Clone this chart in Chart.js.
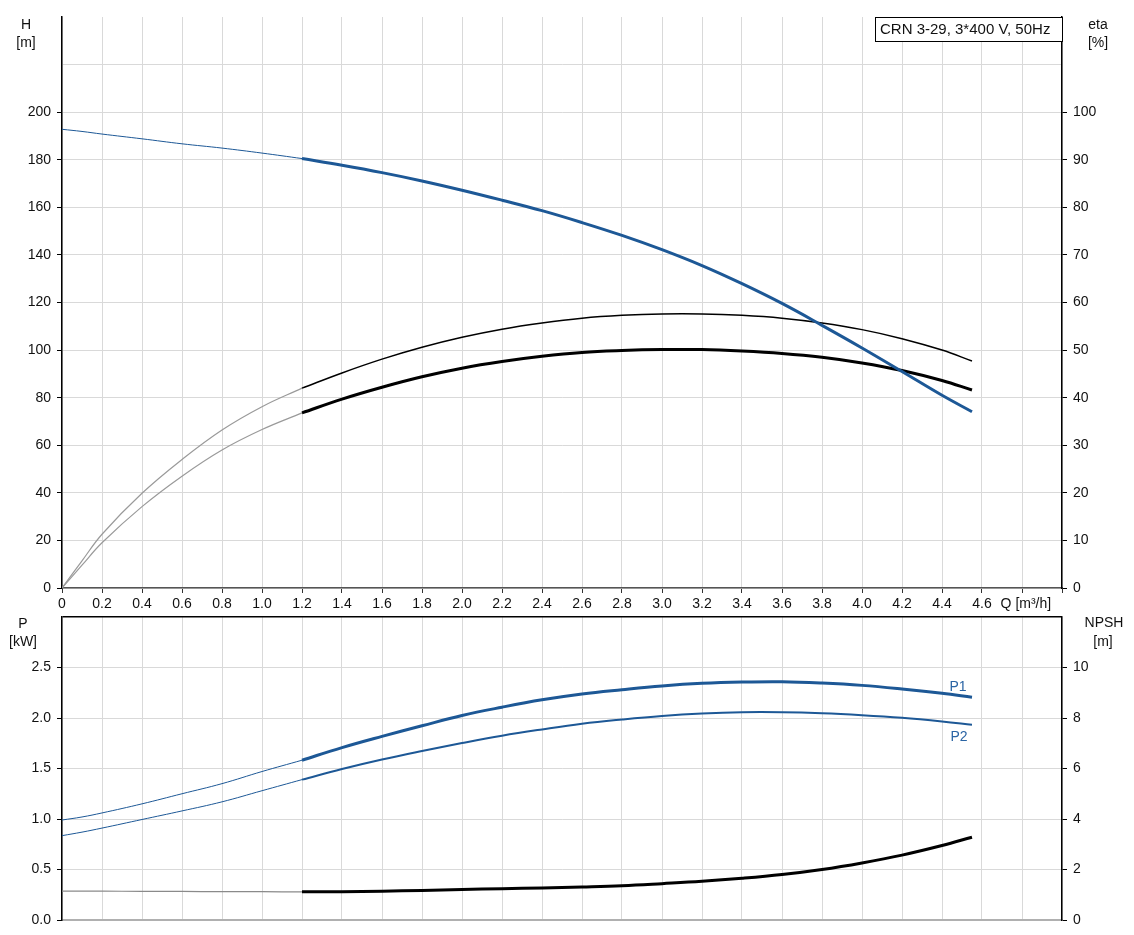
<!DOCTYPE html>
<html>
<head>
<meta charset="utf-8">
<script src="https://cdn.jsdelivr.net/npm/chart.js@4.4.0/dist/chart.umd.min.js"></script>
<style>
  html, body { margin: 0; padding: 0; background: #fff; }
  #top { position: absolute; left: 0; top: 0; width: 1134px; height: 612px; }
  #bottom { position: absolute; left: 0; top: 600px; width: 1134px; height: 335px; }
</style>
</head>
<body>
<div id="top"><canvas id="curveQH"></canvas></div>
<div id="bottom"><canvas id="curveP"></canvas></div>
<script>
// Q points (m³/h): thin part below the duty range, thick part inside it
const qLow = [0, 0.1, 0.2, 0.4, 0.6, 0.8, 1.0, 1.2];
const qHigh = [1.2, 1.4, 1.6, 1.8, 2.0, 2.2, 2.4, 2.6, 2.8, 3.0, 3.2, 3.4, 3.6, 3.8, 4.0, 4.2, 4.4, 4.55];

// head H [m]
const headLow = [192.8, 191.9, 190.8, 188.8, 186.7, 184.9, 182.8, 180.5];
const headHigh = [180.5, 177.7, 174.6, 171.1, 167.2, 163.0, 158.6, 153.6, 148.2, 142.2, 135.5, 127.9, 119.6, 110.4, 100.9, 91.0, 81.0, 74.1];

// efficiencies eta [%]
const etaPumpLow = [0, 5.7, 11.3, 19.9, 27.0, 33.2, 38.1, 42.0];
const etaPumpHigh = [42.0, 45.2, 48.1, 50.6, 52.7, 54.4, 55.7, 56.7, 57.3, 57.6, 57.6, 57.3, 56.7, 55.7, 54.3, 52.4, 50.0, 47.7];
const etaTotalLow = [0, 4.8, 9.5, 17.1, 23.5, 29.0, 33.3, 36.8];
const etaTotalHigh = [36.8, 39.7, 42.2, 44.4, 46.2, 47.6, 48.7, 49.5, 49.9, 50.1, 50.1, 49.8, 49.3, 48.5, 47.3, 45.7, 43.6, 41.6];

// power P1 / P2 [kW]
const p1Low = [0.99, 1.02, 1.06, 1.15, 1.25, 1.35, 1.47, 1.582];
const p1High = [1.582, 1.707, 1.818, 1.923, 2.025, 2.107, 2.18, 2.238, 2.28, 2.317, 2.343, 2.356, 2.359, 2.346, 2.323, 2.287, 2.244, 2.205];
const p2Low = [0.835, 0.87, 0.91, 0.995, 1.08, 1.17, 1.28, 1.39];
const p2High = [1.39, 1.495, 1.589, 1.673, 1.752, 1.825, 1.887, 1.943, 1.985, 2.02, 2.044, 2.057, 2.057, 2.047, 2.028, 2.002, 1.966, 1.933];

// NPSH [m]
const npshLow = [1.14, 1.14, 1.14, 1.135, 1.13, 1.125, 1.12, 1.115];
const npshHigh = [1.115, 1.12, 1.14, 1.17, 1.21, 1.24, 1.27, 1.31, 1.36, 1.44, 1.53, 1.65, 1.8, 2.0, 2.26, 2.57, 2.95, 3.28];

const pumpTitle = 'CRN 3-29, 3*400 V, 50Hz';
const qAxisLabel = '  Q [m³/h]';

const BLUE = '#1d5896';
const GRID = '#d9d9d9';
const FONT = 'Arial, "Liberation Sans", sans-serif';

Chart.defaults.font.family = FONT;
Chart.defaults.font.size = 14;
Chart.defaults.color = '#111';

const pts = (xs, ys) => xs.map((x, i) => ({ x: x, y: ys[i] }));

function line(label, data, axis, color, width) {
  return {
    label: label,
    data: data,
    yAxisID: axis,
    borderColor: color,
    borderWidth: width,
    pointRadius: 0,
    fill: false,
    tension: 0.4,
  };
}

// axis captions, title box and curve names, written as canvas text
function makeNotes(texts, box) {
  return {
    id: 'notes',
    afterDraw(chart) {
      const ctx = chart.ctx;
      ctx.save();
      ctx.textBaseline = 'middle';
      ctx.font = '14px ' + FONT;
      texts.forEach((t) => {
        ctx.fillStyle = t.color || '#111';
        ctx.textAlign = 'center';
        let x = t.x, y = t.y;
        if (t.ds !== undefined) {
          const meta = chart.getDatasetMeta(t.ds);
          const last = meta.data[meta.data.length - 1];
          x = last.x + t.dx;
          y = last.y + t.dy;
        }
        ctx.fillText(t.text, x, y);
      });
      if (box) {
        ctx.fillStyle = '#fff';
        ctx.fillRect(box.x, box.y, box.w, box.h);
        ctx.strokeStyle = '#000';
        ctx.lineWidth = 1;
        ctx.strokeRect(box.x + 0.5, box.y + 0.5, box.w, box.h);
        ctx.font = '15px ' + FONT;
        ctx.fillStyle = '#111';
        ctx.textAlign = 'left';
        ctx.fillText(box.text, box.x + 5, box.y + box.h / 2 + 1);
      }
      ctx.restore();
    },
  };
}

const xTicks = { min: 0, max: 5, stepSize: 0.2 };

new Chart(document.getElementById('curveQH'), {
  type: 'line',
  data: {
    datasets: [
      line('H', pts(qHigh, headHigh), 'y', BLUE, 3),
      line('eta pump', pts(qHigh, etaPumpHigh), 'y1', '#000', 1.5),
      line('eta total', pts(qHigh, etaTotalHigh), 'y1', '#000', 3),
      line('H low', pts(qLow, headLow), 'y', BLUE, 1),
      line('eta pump low', pts(qLow, etaPumpLow), 'y1', '#9a9a9a', 1.2),
      line('eta total low', pts(qLow, etaTotalLow), 'y1', '#9a9a9a', 1.2),
    ],
  },
  options: {
    responsive: true,
    maintainAspectRatio: false,
    animation: false,
    layout: { padding: { top: 17, left: 0, right: 0, bottom: 0 } },
    plugins: { legend: { display: false }, tooltip: { enabled: false } },
    scales: {
      x: {
        type: 'linear',
        min: xTicks.min,
        max: xTicks.max,
        afterFit: (s) => { s.height = 24; },
        border: { color: '#555', width: 1.5 },
        grid: { color: GRID, tickColor: '#333', tickLength: 5 },
        ticks: {
          stepSize: xTicks.stepSize,
          autoSkip: false,
          maxRotation: 0,
          padding: 3,
          callback: (v) => {
            if (v > 4.7 && v < 4.9) return qAxisLabel;
            if (v > 4.9) return '';
            return v === 0 ? '0' : v.toFixed(1);
          },
        },
      },
      y: {
        position: 'left',
        min: 0,
        max: 240,
        afterFit: (s) => { s.width = 62; },
        border: { color: '#000', width: 1.5 },
        grid: {
          color: (c) => (c.tick && c.tick.value >= 240 ? 'rgba(0,0,0,0)' : GRID),
          tickColor: (c) => (c.tick && c.tick.value > 200 ? 'rgba(0,0,0,0)' : '#000'),
          tickLength: 5,
        },
        ticks: { stepSize: 20, padding: 6, callback: (v) => (v > 200 ? '' : String(v)) },
      },
      y1: {
        position: 'right',
        min: 0,
        max: 120,
        afterFit: (s) => { s.width = 72; },
        border: { color: '#000', width: 1.5 },
        grid: {
          drawOnChartArea: false,
          tickColor: (c) => (c.tick && c.tick.value > 100 ? 'rgba(0,0,0,0)' : '#000'),
          tickLength: 5,
        },
        ticks: { stepSize: 10, padding: 6, callback: (v) => (v > 100 ? '' : String(v)) },
      },
    },
  },
  plugins: [makeNotes([
    { text: 'H', x: 26, y: 25 },
    { text: '[m]', x: 26, y: 43 },
    { text: 'eta', x: 1098, y: 25 },
    { text: '[%]', x: 1098, y: 43 },
  ], { x: 875, y: 17, w: 187, h: 24, text: pumpTitle })],
});

new Chart(document.getElementById('curveP'), {
  type: 'line',
  data: {
    datasets: [
      line('P1', pts(qHigh, p1High), 'y', BLUE, 3),
      line('P2', pts(qHigh, p2High), 'y', BLUE, 2),
      line('NPSH', pts(qHigh, npshHigh), 'y1', '#000', 3),
      line('P1 low', pts(qLow, p1Low), 'y', BLUE, 1),
      line('P2 low', pts(qLow, p2Low), 'y', BLUE, 1),
      line('NPSH low', pts(qLow, npshLow), 'y1', '#8a8a8a', 1.2),
    ],
  },
  options: {
    responsive: true,
    maintainAspectRatio: false,
    animation: false,
    layout: { padding: { top: 17, left: 0, right: 0, bottom: 0 } },
    plugins: { legend: { display: false }, tooltip: { enabled: false } },
    scales: {
      x: {
        type: 'linear',
        min: xTicks.min,
        max: xTicks.max,
        afterFit: (s) => { s.height = 15; },
        border: { color: '#b0b0b0', width: 2 },
        grid: { color: GRID, drawTicks: false },
        ticks: { stepSize: xTicks.stepSize, autoSkip: false, display: false },
      },
      y: {
        position: 'left',
        min: 0,
        max: 3,
        afterFit: (s) => { s.width = 62; },
        border: { color: '#000', width: 1.5 },
        grid: {
          color: (c) => (c.tick && c.tick.value >= 3 ? '#000' : GRID),
          lineWidth: (c) => (c.tick && c.tick.value >= 3 ? 1.5 : 1),
          tickColor: (c) => (c.tick && c.tick.value >= 3 ? 'rgba(0,0,0,0)' : '#000'),
          tickLength: 5,
        },
        ticks: { stepSize: 0.5, padding: 6, callback: (v) => (v >= 3 ? '' : v.toFixed(1)) },
      },
      y1: {
        position: 'right',
        min: 0,
        max: 12,
        afterFit: (s) => { s.width = 72; },
        border: { color: '#000', width: 1.5 },
        grid: {
          drawOnChartArea: false,
          tickColor: (c) => (c.tick && c.tick.value > 10 ? 'rgba(0,0,0,0)' : '#000'),
          tickLength: 5,
        },
        ticks: { stepSize: 2, padding: 6, callback: (v) => (v > 10 ? '' : String(v)) },
      },
    },
  },
  plugins: [makeNotes([
    { text: 'P', x: 23, y: 24 },
    { text: '[kW]', x: 23, y: 42 },
    { text: 'NPSH', x: 1104, y: 23 },
    { text: '[m]', x: 1103, y: 42 },
    { text: 'P1', ds: 0, dx: -14, dy: -10, color: '#2a64a4' },
    { text: 'P2', ds: 1, dx: -13, dy: 12, color: '#2a64a4' },
  ])],
});
</script>
</body>
</html>
